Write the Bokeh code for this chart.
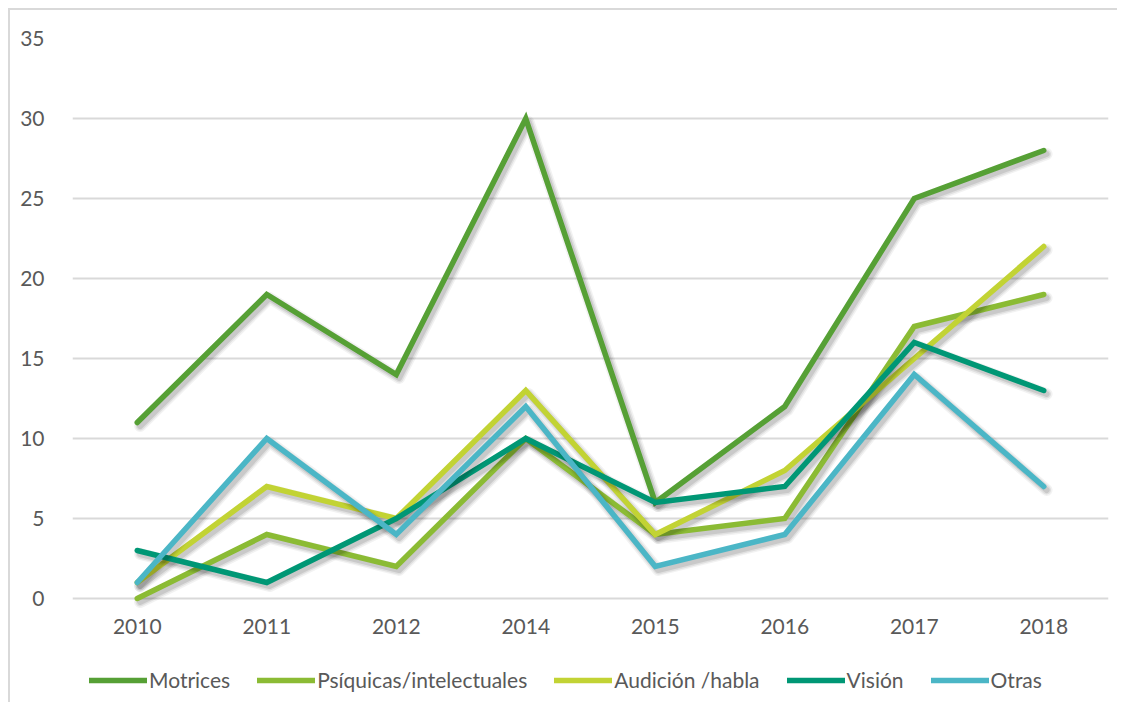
from bokeh.plotting import figure
from bokeh.models import ColumnDataSource, Legend, LegendItem, FixedTicker
from bokeh.transform import dodge
from bokeh.embed import file_html
from bokeh.resources import INLINE

years = ["2010", "2011", "2012", "2014", "2015", "2016", "2017", "2018"]
motrices = [11, 19, 14, 30, 6, 12, 25, 28]
psiquicas = [0, 4, 2, 10, 4, 5, 17, 19]
audicion = [1, 7, 5, 13, 4, 8, 15, 22]
vision = [3, 1, 5, 10, 6, 7, 16, 13]
otras = [1, 10, 4, 12, 2, 4, 14, 7]

series_names = ["Motrices", "Psíquicas/intelectuales", "Audición /habla", "Visión", "Otras"]
series_values = [motrices, psiquicas, audicion, vision, otras]
colors = ["#56A035", "#8BBB34", "#C2D334", "#009775", "#4BB6C6"]
y_ticks = [0, 5, 10, 15, 20, 25, 30, 35]

FONT = "Lato"
TEXT = "#595959"

# frame extends below zero to host the year labels and the legend
p = figure(x_range=years, y_range=(-6.5, 35), frame_width=1036, frame_height=664,
           output_backend="svg", toolbar_location=None,
           min_border_left=62, min_border_top=28, min_border_right=9,
           min_border_bottom=0)
p.margin = (8, 0, 0, 8)
p.styles = {"border-left": "2px solid #d9d9d9", "border-top": "2px solid #d9d9d9"}
p.outline_line_color = None
p.background_fill_color = "white"
p.border_fill_color = "white"
p.xgrid.grid_line_color = None
p.ygrid.grid_line_color = "#d9d9d9"
p.ygrid.grid_line_width = 2
p.yaxis.ticker = FixedTicker(ticks=y_ticks)
for ax in (p.xaxis[0], p.yaxis[0]):
    ax.axis_line_color = None
    ax.major_tick_line_color = None
    ax.minor_tick_line_color = None
    ax.major_label_text_font = FONT
    ax.major_label_text_font_size = "21px"
    ax.major_label_text_color = TEXT
p.yaxis.major_label_standoff = 22
p.xaxis.major_label_standoff = 14
p.xaxis.fixed_location = 0
p.x_range.range_padding = 0

items = []
for name, vals, col in zip(series_names, series_values, colors):
    src = ColumnDataSource(dict(x=years, y=vals))
    # soft drop shadow
    for w, a in ((12, 0.05), (9, 0.07), (6, 0.10)):
        p.line(x=dodge("x", 0.022, range=p.x_range), y=dodge("y", -0.22, range=p.y_range),
               source=src, line_color="#000000", line_alpha=a, line_width=w,
               line_join="round", line_cap="round")
    r = p.line(x="x", y="y", source=src, line_color=col, line_width=5.5,
               line_join="miter", line_cap="round")
    items.append(LegendItem(label=name, renderers=[r]))

legend = Legend(items=items, orientation="horizontal", location=(17, 10),
                label_text_font=FONT, label_text_font_size="21px",
                label_text_color=TEXT, glyph_width=58, glyph_height=24,
                label_standoff=2, spacing=27, border_line_color=None,
                background_fill_alpha=0, margin=0, padding=0)
p.add_layout(legend, "center")

open("out.html", "w").write(file_html(p, INLINE))
